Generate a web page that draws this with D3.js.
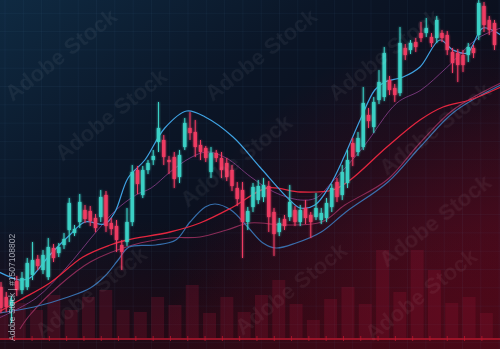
<!DOCTYPE html>
<html>
<head>
<meta charset="utf-8">
<script src="https://cdn.jsdelivr.net/npm/d3@7/dist/d3.min.js"></script>
<style>
  html, body { margin: 0; padding: 0; background: #0b1222; overflow: hidden; }
  svg { display: block; }
</style>
</head>
<body>
<div id="chart"></div>
<script>
// candlestick chart with moving averages and volume, dark trading style

const WIDTH = 500;
const HEIGHT = 349;

// open, close, high, low (price units)
const candles = [
  [62,41,67,36],[52,42,57,37],[43,49,53,26],[68,59,73,53],[59,71,77,55],
  [62,86,91,59],[74,89,107,69],[90,83,94,79],[79,94,99,75],[72,102,111,69],
  [101,91,105,87],[96,102,106,92],[104,110,116,100],[119,146,151,107],[116,120,124,113],
  [127,147,155,121],[139,130,144,126],[138,128,143,123],[131,121,135,117],[132,152,159,127],
  [154,123,158,117],[126,120,131,114],[123,109,129,97],[104,97,109,79],[107,127,141,103],
  [127,177,184,123],[179,165,183,155],[154,179,183,151],[179,186,189,175],[189,193,199,184],
  [207,221,247,197],[209,192,214,184],[189,187,193,175],[192,170,197,161],[172,194,199,166],
  [202,226,231,199],[221,216,237,209],[217,202,229,192],[204,197,209,189],[201,191,203,187],
  [177,196,202,171],[196,191,199,187],[191,179,197,171],[186,172,191,168],[179,163,184,158],
  [161,150,167,143],[159,127,167,91],[127,138,142,119],[142,162,166,137],[149,163,169,145],
  [152,164,171,147],[163,132,168,117],[137,115,141,93],[117,126,131,113],[130,123,134,119],
  [132,147,164,128],[139,127,143,123],[127,139,144,123],[141,131,149,125],[134,127,137,111],
  [132,141,156,129],[129,136,141,125],[131,146,151,127],[142,161,165,137],[167,152,171,147],
  [154,177,184,149],[166,189,199,161],[206,192,211,183],[197,211,217,193],[202,246,262,199],
  [234,228,241,221],[222,247,252,216],[249,267,279,245],[252,296,302,248],[269,259,273,254],
  [261,254,265,247],[256,306,322,253],[301,294,305,289],[299,306,309,295],[307,302,311,297],
  [316,311,327,307],[316,321,331,312],[312,306,316,302],[311,329,333,306],[316,311,319,307],
  [314,299,318,294],[297,286,301,276],[296,284,300,267],[294,284,299,277],[294,302,306,287],
  [301,296,304,291],[314,346,349,309],[343,324,347,317],[329,319,333,314],[326,304,329,299]
];

// volume per bar
const volumes = [23,35,28,43,28,41,48,28,26,41,33,53,25,41,26,43,58,34,18,39,51,34,88,46,88,68,35,41,25];

// moving averages: [candle index, price]
const maFast = [
  [-0.4,77],[3.6,69],[5.5,71],[9.3,94],[13.1,114],[16,127],[19.8,125],[21.7,137],[24.2,171],
  [27.4,189],[31.2,221],[35.4,238],[38.9,232],[44.2,212],[49.3,182],[55,149],[57,141],[59.8,144],
  [62.7,164],[65.5,194],[68.4,229],[71.2,259],[73.1,267],[76.6,272],[79.8,282],[83.6,309],
  [86.1,299],[88.8,296],[91.8,321],[95.2,314]
];
const maMid = [
  [-0.4,31],[6.7,51],[12.4,81],[18.1,117],[21.9,139],[25.7,154],[28.6,161],[32.2,177],[36,191],
  [39.2,197],[42.9,191],[47.6,172],[52,157],[57,149],[60,151],[62.9,166],[69,202],[75.4,246],
  [80,259],[84.8,281],[90.9,311],[95.2,321]
];
const maSlow = [
  [-0.4,36],[6.3,42],[12.8,52],[17,61],[20,74],[22.3,89],[24.4,102],[29.5,104],[33.3,109],
  [36,127],[38.9,142],[40.8,145],[43.8,139],[47,122],[49.9,106],[52.4,101],[56.2,106],[61,117],
  [65.7,137],[73.7,167],[80,203],[86.3,237],[95.2,264]
];
const maRed = [
  [-0.4,37],[3.6,49],[9.3,66],[15.6,92],[20.8,104],[24,109],[32.2,117],[37.9,126],[44.2,142],
  [50.7,161],[57,157],[63.2,159],[66.5,169],[73.5,202],[79.8,229],[84.2,242],[89.3,249],[95.2,262]
];
const maMauve = [
  [3.6,20],[5.5,34],[11.2,64],[17,87],[25.1,104],[32.2,111],[37.9,112],[43,119],[47.4,126],
  [54.1,124],[61.1,127],[65.5,144],[73.5,169],[79.8,206],[86.1,239],[95.2,266]
];

const watermarks = [
  [62,56],[112,116],[262,56],[385,56],[237,162],[436,130],[92,294],[292,290],[422,296],[436,222]
];
const idLabel = "Adobe Stock | #1507108802";

const svg = d3.select("#chart").append("svg")
  .attr("width", WIDTH)
  .attr("height", HEIGHT)
  .attr("viewBox", `0 0 ${WIDTH} ${HEIGHT}`);

const defs = svg.append("defs");

const bgLin = defs.append("linearGradient").attr("id", "bgLin")
  .attr("x1", 0).attr("y1", 0).attr("x2", 1).attr("y2", 1);
bgLin.append("stop").attr("offset", 0).attr("stop-color", "#0f2a42");
bgLin.append("stop").attr("offset", 0.33).attr("stop-color", "#0b1627");
bgLin.append("stop").attr("offset", 0.6).attr("stop-color", "#0b0d1a");
bgLin.append("stop").attr("offset", 1).attr("stop-color", "#3c0815");

const redGlow = defs.append("radialGradient").attr("id", "redGlow")
  .attr("gradientUnits", "userSpaceOnUse")
  .attr("cx", 480).attr("cy", 349).attr("r", 320);
redGlow.append("stop").attr("offset", 0).attr("stop-color", "#640a20").attr("stop-opacity", 0.8);
redGlow.append("stop").attr("offset", 1).attr("stop-color", "#640a20").attr("stop-opacity", 0);

const bottomFade = defs.append("linearGradient").attr("id", "bottomFade")
  .attr("x1", 0).attr("y1", 0).attr("x2", 0).attr("y2", 1);
bottomFade.append("stop").attr("offset", 0).attr("stop-color", "#38060f").attr("stop-opacity", 0);
bottomFade.append("stop").attr("offset", 1).attr("stop-color", "#38060f").attr("stop-opacity", 0.5);

const glow = defs.append("filter").attr("id", "glow")
  .attr("x", "-50%").attr("y", "-50%").attr("width", "200%").attr("height", "200%");
glow.append("feGaussianBlur").attr("stdDeviation", 1.3).attr("result", "b");
const merge = glow.append("feMerge");
merge.append("feMergeNode").attr("in", "b");
merge.append("feMergeNode").attr("in", "SourceGraphic");

// background
svg.append("rect").attr("width", WIDTH).attr("height", HEIGHT).attr("fill", "url(#bgLin)");
svg.append("rect").attr("width", WIDTH).attr("height", HEIGHT).attr("fill", "url(#redGlow)");
svg.append("rect").attr("y", 220).attr("width", WIDTH).attr("height", HEIGHT - 220).attr("fill", "url(#bottomFade)");

// grid
const grid = svg.append("g").attr("stroke", "rgba(110,150,200,0.085)").attr("stroke-width", 0.7);
d3.range(5, WIDTH, 18.3).forEach(x => {
  grid.append("line").attr("x1", x).attr("x2", x).attr("y1", 0).attr("y2", HEIGHT);
});
d3.range(-5, HEIGHT, 18.3).forEach(y => {
  grid.append("line").attr("x1", 0).attr("x2", WIDTH).attr("y1", y).attr("y2", y);
});

// scales
const x = d3.scaleLinear().domain([0, candles.length - 1]).range([1, 494.5]);
const y = d3.scaleLinear().domain([0, 350]).range([349, -1]);

const xVol = d3.scaleBand().domain(d3.range(volumes.length))
  .range([-6.7, 495]).paddingInner(0.25).paddingOuter(0.125);
const yVol = d3.scaleLinear().domain([0, 100]).range([338, 238]);

// volume bars
svg.append("g").selectAll("rect").data(volumes).join("rect")
  .attr("x", (d, i) => xVol(i))
  .attr("y", d => yVol(d))
  .attr("width", xVol.bandwidth())
  .attr("height", d => yVol(0) - yVol(d))
  .attr("fill", "rgba(150,20,50,0.26)");

// baseline
svg.append("line").attr("x1", 0).attr("x2", WIDTH).attr("y1", 339).attr("y2", 339)
  .attr("stroke", "#b8182f").attr("stroke-width", 1.4);
svg.append("g").selectAll("line").data(volumes).join("line")
  .attr("x1", (d, i) => xVol(i) + 2).attr("x2", (d, i) => xVol(i) + 2)
  .attr("y1", 336).attr("y2", 341)
  .attr("stroke", "#b8182f").attr("stroke-width", 0.8);

// moving averages
const line = d3.line()
  .x(d => x(d[0]))
  .y(d => y(d[1]))
  .curve(d3.curveCatmullRom.alpha(0.5));

const maLayer = svg.append("g").attr("fill", "none");
maLayer.append("path").attr("d", line(maMauve)).attr("stroke", "#9c3060").attr("stroke-width", 1.1).attr("opacity", 0.85);
maLayer.append("path").attr("d", line(maSlow)).attr("stroke", "#3d7fc4").attr("stroke-width", 1.2).attr("opacity", 0.85);
maLayer.append("path").attr("d", line(maMid)).attr("stroke", "#7c3a80").attr("stroke-width", 1).attr("opacity", 0.9);
maLayer.append("path").attr("d", line(maRed)).attr("stroke", "#e3263f").attr("stroke-width", 1.3);
maLayer.append("path").attr("d", line(maFast)).attr("stroke", "#3fa2e2").attr("stroke-width", 1.2);

// candles
const UP = "#3ad0c5";
const DOWN = "#ee3a62";
const bodyW = 3.4;

const candleSel = svg.append("g").attr("filter", "url(#glow)")
  .selectAll("g").data(candles).join("g")
  .attr("transform", (d, i) => `translate(${x(i)},0)`);

candleSel.append("line")
  .attr("y1", d => y(d[2])).attr("y2", d => y(d[3]))
  .attr("stroke", d => d[1] >= d[0] ? UP : DOWN)
  .attr("stroke-width", 1);

candleSel.append("rect")
  .attr("x", -bodyW / 2)
  .attr("width", bodyW)
  .attr("y", d => y(Math.max(d[0], d[1])))
  .attr("height", d => Math.max(1.5, Math.abs(y(d[0]) - y(d[1]))))
  .attr("fill", d => d[1] >= d[0] ? UP : DOWN);

// watermarks
svg.append("g").selectAll("text").data(watermarks).join("text")
  .attr("transform", d => `translate(${d[0]},${d[1]}) rotate(-38)`)
  .attr("text-anchor", "middle")
  .attr("dominant-baseline", "middle")
  .attr("font-family", "'Liberation Sans', Arial, sans-serif")
  .attr("font-weight", "bold")
  .attr("font-size", 22)
  .attr("fill", "rgba(255,255,255,0.05)")
  .text("Adobe Stock");

svg.append("text")
  .attr("transform", "translate(15,341) rotate(-90)")
  .attr("font-family", "'Liberation Sans', Arial, sans-serif")
  .attr("font-size", 8.5)
  .attr("fill", "rgba(205,210,220,0.75)")
  .text(idLabel);
</script>
</body>
</html>
